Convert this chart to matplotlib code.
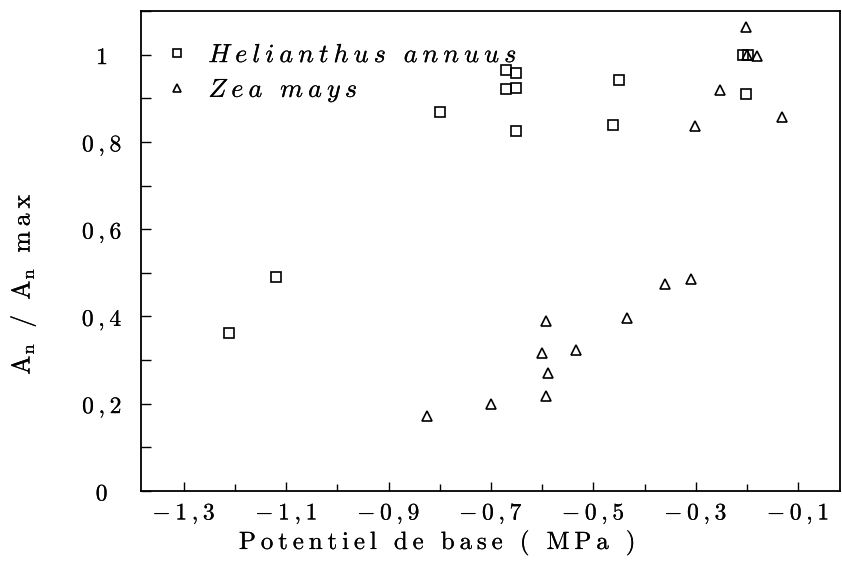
import matplotlib
matplotlib.use("Agg")
import matplotlib.pyplot as plt
import matplotlib.patheffects as pe
from matplotlib.ticker import FixedLocator, MultipleLocator

plt.rcParams['mathtext.fontset'] = 'cm'

# the scanned original is a bit darker than the thin CM glyphs
HEAVY = [pe.withStroke(linewidth=0.12, foreground='black')]


def mt(s, gap=r'\:', style='mathrm'):
    """Computer Modern text with the wide letter spacing of the old plot."""
    parts = [r'\ ' if c == ' ' else '{%s}' % c for c in s]
    body = gap.join(parts)
    if style:
        return r'$\%s{%s}$' % (style, body)
    return '$%s$' % body


# Helianthus annuus (squares)
heli_x = [-1.212, -1.12, -0.80, -0.671, -0.651, -0.671, -0.651, -0.651,
          -0.450, -0.462, -0.207, -0.197, -0.202]
heli_y = [0.363, 0.49, 0.868, 0.964, 0.958, 0.921, 0.923, 0.824,
          0.943, 0.839, 1.0, 1.0, 0.910]

# Zea mays (triangles)
zea_x = [-0.825, -0.701, -0.592, -0.588, -0.601, -0.592, -0.533, -0.435,
         -0.36, -0.31, -0.301, -0.252, -0.202, -0.200, -0.181, -0.131]
zea_y = [0.172, 0.200, 0.218, 0.270, 0.316, 0.389, 0.323, 0.396,
         0.475, 0.485, 0.837, 0.920, 1.064, 1.0, 0.996, 0.857]

xtick_vals = [-1.3, -1.1, -0.9, -0.7, -0.5, -0.3, -0.1]
xtick_labels = ['-1,3', '-1,1', '-0,9', '-0,7', '-0,5', '-0,3', '-0,1']
ytick_vals = [0, 0.2, 0.4, 0.6, 0.8, 1.0]
ytick_labels = ['0', '0,2', '0,4', '0,6', '0,8', '1']

fig = plt.figure(figsize=(8.42, 5.67), dpi=100)
ax = fig.add_axes([141 / 842, 1 - 491 / 567, 699 / 842, 480 / 567])

ax.plot(heli_x, heli_y, ls='none', marker='s', ms=6.5, mfc='none',
        mec='black', mew=1.2, label=mt('Helianthus annuus', style=None))
ax.plot(zea_x, zea_y, ls='none', marker='^', ms=7, mfc='none',
        mec='black', mew=1.2, label=mt('Zea mays', style=None))

ax.set_xlim(-1.384, -0.018)
ax.set_ylim(0, 1.1)

ax.xaxis.set_major_locator(FixedLocator(xtick_vals))
ax.xaxis.set_minor_locator(MultipleLocator(0.1))
ax.yaxis.set_major_locator(FixedLocator(ytick_vals))
ax.yaxis.set_minor_locator(MultipleLocator(0.1))

ax.set_xticklabels([mt(t) for t in xtick_labels], fontsize=17)
ax.set_yticklabels([mt(t) for t in ytick_labels], fontsize=17)
for lab in ax.get_yticklabels():
    lab.set_ha('center')
for lab in ax.get_xticklabels() + ax.get_yticklabels():
    lab.set_path_effects(HEAVY)

ax.tick_params(axis='both', which='both', direction='in', top=False,
               right=False, width=1.0, colors='black')
ax.tick_params(axis='x', which='major', length=6.5, pad=7)
ax.tick_params(axis='x', which='minor', length=5)
ax.tick_params(axis='y', which='both', length=7, pad=28)

for sp in ax.spines.values():
    sp.set_linewidth(1.3)
    sp.set_color('black')

ax.set_xlabel(mt('Potentiel de base ( MPa )'), fontsize=18, va='center',
              path_effects=HEAVY)
ax.xaxis.set_label_coords((437 - 141) / 699, (491 - 543) / 480)
ax.set_ylabel(r'$\mathrm{A}_{\mathrm{n}}\ \ /\ \ \mathrm{A}_{\mathrm{n}}\ \ '
              r'\mathrm{m}\:\mathrm{a}\:\mathrm{x}$', fontsize=18.5, va='center',
              path_effects=HEAVY)
ax.yaxis.set_label_coords((23 - 141) / 699, (491 - 284) / 480)

leg = ax.legend(loc='upper left', bbox_to_anchor=((164 - 141) / 699, 0.935),
                frameon=False, fontsize=18.8, handlelength=1.0, handletextpad=0.7,
                labelspacing=0.3, borderpad=0, borderaxespad=0, markerscale=0.8)
for t in leg.get_texts():
    t.set_path_effects(HEAVY)

fig.savefig('out.png', dpi=100)
